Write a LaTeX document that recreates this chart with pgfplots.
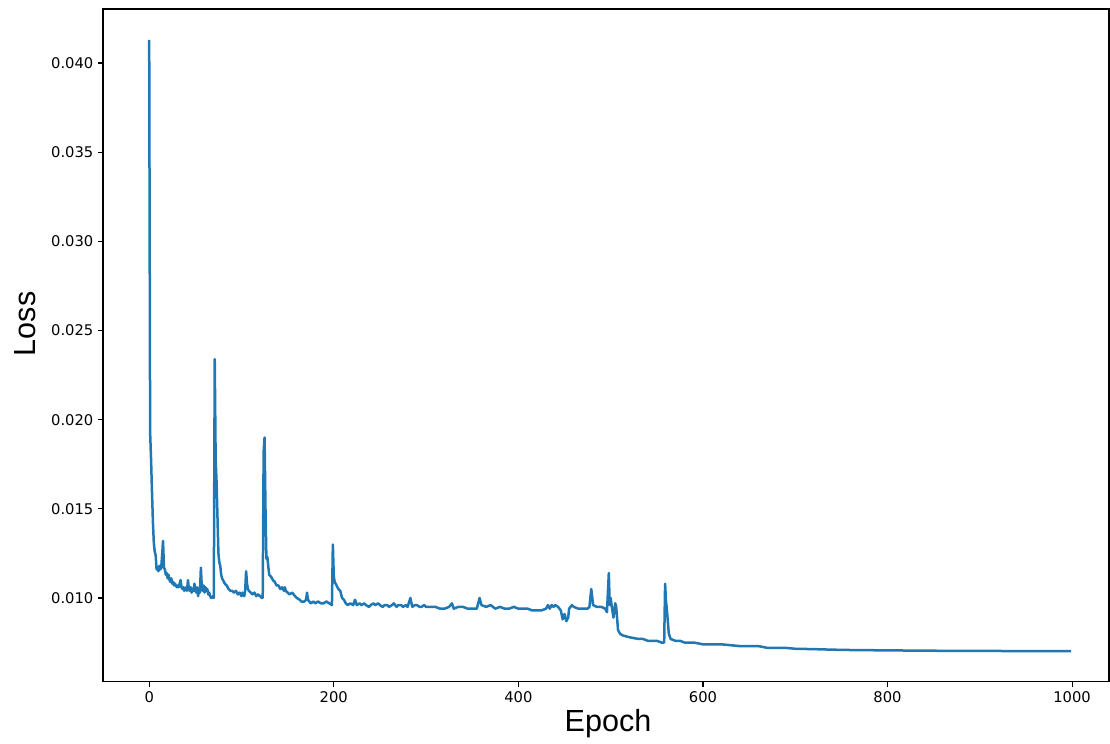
\documentclass[border=0pt]{standalone}
\usepackage{pgfplots}
\pgfplotsset{compat=1.18}
\usepackage{fontspec}
\setmainfont{DejaVu Sans}
\newfontfamily\arial{Liberation Sans}
\definecolor{mplblue}{HTML}{1F77B4}
\begin{document}
\begin{tikzpicture}
\begin{axis}[
  scale only axis,
  width=724.3pt, height=484.5pt,
  xmin=-50, xmax=1040,
  ymin=0.00529, ymax=0.04303,
  xtick={0,200,400,600,800,1000},
  ytick={0.010,0.015,0.020,0.025,0.030,0.035,0.040},
  scaled y ticks=false,
  scaled x ticks=false,
  xticklabel style={/pgf/number format/.cd, 1000 sep={}},
  yticklabel style={/pgf/number format/.cd, fixed, fixed zerofill, precision=3},
  /pgf/number format/assume math mode=true,
  tick label style={font=\fontsize{10.6}{12}\selectfont},
  tick align=outside,
  major tick length=3.5pt,
  tick style={black, line width=0.8pt},
  xtick pos=bottom, ytick pos=left,
  axis line style={black, line width=0.8pt},
  xlabel={\arial\fontsize{22}{25}\selectfont Epoch},
  ylabel={\arial\fontsize{22}{25}\selectfont Loss},
  xlabel style={at={(axis description cs:0.502,-0.0624)}, anchor=center},
  ylabel style={at={(axis description cs:-0.0775,0.532)}, anchor=center, rotate=0},
  clip=true,
]
\addplot[mplblue, line width=1.8pt, line join=round] coordinates {
(0,0.0413)(1,0.0193)(2,0.0178)(3,0.0160)(4,0.0143)(5,0.0131)(6,0.0126)(7,0.0124)(8,0.0116)(9,0.0117)
(10,0.0115)(11,0.0118)(12,0.0116)(13,0.0117)(14,0.0124)(15,0.0132)(16,0.0117)(17,0.0116)(18,0.0113)(19,0.0114)
(20,0.0111)(21,0.0113)(22,0.0110)(23,0.0109)(24,0.0111)(25,0.0108)(26,0.0109)(27,0.0107)(28,0.0108)(29,0.0107)
(30,0.0106)(31,0.0107)(32,0.0106)(33,0.0108)(34,0.0110)(35,0.0106)(36,0.0105)(37,0.0106)(38,0.0104)(39,0.0105)
(40,0.0106)(41,0.0104)(42,0.0110)(43,0.0105)(44,0.0104)(45,0.0106)(46,0.0103)(47,0.0105)(48,0.0104)(49,0.0108)
(50,0.0104)(51,0.0103)(52,0.0106)(53,0.0101)(54,0.0105)(55,0.0103)(56,0.0117)(57,0.0106)(58,0.0104)(59,0.0107)
(60,0.0103)(61,0.0106)(62,0.0104)(63,0.0105)(64,0.0102)(65,0.0103)(66,0.0101)(67,0.0100)(68,0.0100)(69,0.0101)
(70,0.0100)(71,0.0234)(72,0.0178)(73,0.0165)(74,0.0145)(75,0.0125)(76,0.0120)(77,0.0118)(78,0.0113)(79,0.0111)
(80,0.0110)(82,0.0108)(84,0.0107)(86,0.0105)(88,0.0104)(90,0.0104)(92,0.0103)(94,0.0104)(96,0.0102)(98,0.0103)
(100,0.0101)(101,0.0103)(102,0.0102)(103,0.0101)(104,0.0104)(105,0.0115)(106,0.0108)(107,0.0105)(108,0.0104)
(110,0.0103)(112,0.0102)(114,0.0103)(116,0.0101)(118,0.0102)(120,0.0101)(122,0.0100)(123,0.0100)(124,0.0182)
(125,0.0190)(126,0.0150)(127,0.0122)(128,0.0123)(129,0.0118)(130,0.0113)(132,0.0112)(134,0.0110)(136,0.0109)
(138,0.0107)(140,0.0107)(142,0.0105)(144,0.0106)(146,0.0104)(147,0.0106)(148,0.0104)(150,0.0103)(152,0.0102)
(155,0.0103)(158,0.0101)(160,0.0100)(163,0.0099)(165,0.0098)(168,0.0098)(170,0.0099)(171,0.0103)(172,0.0099)
(175,0.0097)(178,0.0098)(180,0.0097)(183,0.0098)(186,0.0097)(189,0.0097)(192,0.0098)(195,0.0097)(198,0.0096)
(199,0.0130)(200,0.0112)(201,0.0109)(203,0.0107)(205,0.0105)(207,0.0104)(209,0.0100)(211,0.0099)(213,0.0097)
(215,0.0096)(218,0.0097)(221,0.0096)(223,0.0099)(225,0.0096)(228,0.0097)(230,0.0096)(233,0.0097)(235,0.0096)
(238,0.0095)(240,0.0096)(243,0.0097)(245,0.0096)(248,0.0097)(250,0.0096)(253,0.0095)(255,0.0096)(258,0.0096)
(260,0.0095)(263,0.0096)(265,0.0097)(268,0.0095)(270,0.0096)(273,0.0096)(275,0.0095)(278,0.0096)(280,0.0095)
(283,0.0100)(285,0.0095)(288,0.0096)(290,0.0096)(293,0.0095)(295,0.0095)(298,0.0096)(300,0.0095)(305,0.0095)
(310,0.0095)(315,0.0094)(320,0.0094)(325,0.0095)(328,0.0097)(330,0.0094)(335,0.0095)(340,0.0095)(345,0.0094)
(350,0.0094)(355,0.0094)(358,0.0100)(360,0.0096)(365,0.0095)(370,0.0096)(375,0.0094)(380,0.0095)(385,0.0094)
(390,0.0094)(395,0.0095)(400,0.0094)(405,0.0094)(410,0.0094)(415,0.0093)(420,0.0093)(425,0.0093)(430,0.0094)
(432,0.0096)(434,0.0094)(436,0.0096)(438,0.0095)(440,0.0096)(443,0.0095)(446,0.0093)(448,0.0088)(450,0.0091)
(452,0.0087)(454,0.0089)(455,0.0094)(458,0.0096)(460,0.0095)(465,0.0094)(470,0.0094)(475,0.0094)(477,0.0095)
(479,0.0105)(481,0.0096)(485,0.0095)(490,0.0095)(494,0.0094)(496,0.0092)(498,0.0114)(499,0.0096)(500,0.0100)
(501,0.0096)(503,0.0089)(505,0.0097)(506,0.0095)(508,0.0082)(510,0.0080)(513,0.0079)(520,0.0078)(530,0.0077)
(535,0.0077)(540,0.0076)(545,0.0076)(550,0.0076)(555,0.0075)(558,0.0075)(559,0.0108)(560,0.0098)(561,0.0093)
(563,0.0080)(565,0.0077)(570,0.0076)(575,0.0076)(580,0.0075)(585,0.0075)(590,0.0075)(600,0.0074)(610,0.0074)
(620,0.0074)(630,0.00735)(640,0.0073)(650,0.0073)(660,0.0073)(670,0.0072)(680,0.0072)(690,0.0072)(700,0.00715)
(720,0.00713)(740,0.0071)(760,0.00708)(780,0.00707)(800,0.00706)(850,0.00704)(900,0.00703)(950,0.00702)
(999,0.00702)
};
\coordinate (sw) at (rel axis cs:0,0);
\coordinate (ne) at (rel axis cs:1,1);
\end{axis}
\pgfresetboundingbox
\path ([xshift=-74.2pt,yshift=-44.6pt]sw) rectangle ([xshift=0.7pt,yshift=6.5pt]ne);
\end{tikzpicture}
\end{document}
